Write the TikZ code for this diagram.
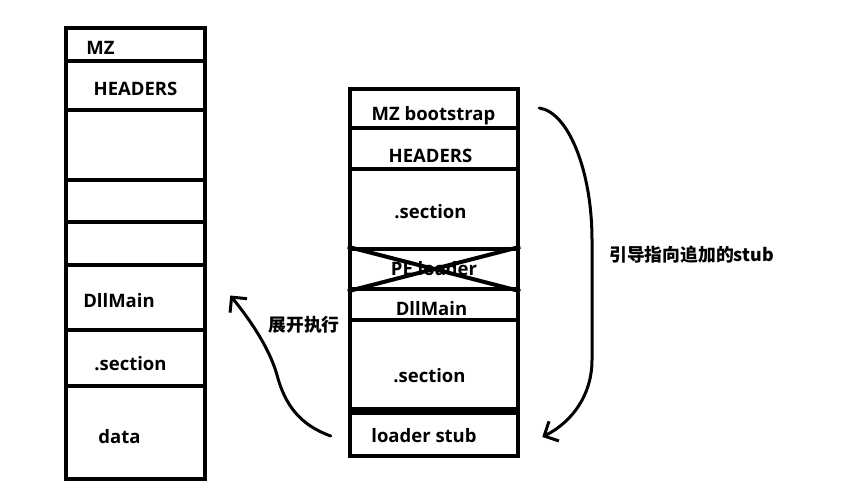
\documentclass[tikz,border=0pt]{standalone}
\usepackage{fontspec}
\setmainfont{Open Sans}
\newfontfamily\cjk{Noto Sans CJK SC}
\usetikzlibrary{arrows.meta,calc}

\begin{document}
\begin{tikzpicture}[x=1pt,y=-1pt,
  lseg/.style={draw,line width=4.5pt,minimum width=139pt,inner sep=0pt},
  rseg/.style={draw,line width=4.5pt,minimum width=168pt,inner sep=0pt},
  txt/.style={inner sep=0pt,anchor=base,font=\fontsize{18.5}{22}\selectfont\bfseries},
  note/.style={inner sep=0pt,font=\cjk\fontsize{17.8}{21}\selectfont\bfseries},
  xline/.style={line width=4pt},
  curve/.style={line width=3pt,line cap=round,line join=round,-{Straight Barb[length=11pt,width=22pt]}}
]
\useasboundingbox (0,0) rectangle (843,491);
\node[lseg,minimum height=33pt] (lmz) at (135.5,44.5) {};
\node[lseg,minimum height=49pt] (lhd) at (135.5,85.5) {};
\node[lseg,minimum height=70pt] (lb1) at (135.5,145) {};
\node[lseg,minimum height=42pt] (lb2) at (135.5,201) {};
\node[lseg,minimum height=43pt] (lb3) at (135.5,243.5) {};
\node[lseg,minimum height=65pt] (ldm) at (135.5,297.5) {};
\node[lseg,minimum height=56pt] (lsec) at (135.5,358) {};
\node[lseg,minimum height=93pt] (ldata) at (135.5,432.5) {};
\node[txt] (tlmz) at (100.5,54) {MZ};
\node[txt] (tlhd) at (135.5,95) {HEADERS};
\node[txt] (tldm) at (119,307) {DllMain};
\node[txt] (tlsec) at (130.5,370) {.section};
\node[txt] (tldata) at (119.5,443) {data};
\node[rseg,minimum height=39pt] (rmz) at (434,108.5) {};
\node[rseg,minimum height=41pt] (rhd) at (434,148.5) {};
\node[rseg,minimum height=80pt] (rsec1) at (434,209) {};
\node[rseg,minimum height=40pt] (rpe) at (434,269) {};
\node[rseg,minimum height=31pt] (rdm) at (434,304.5) {};
\node[rseg,minimum height=89pt] (rsec2) at (434,364.5) {};
\node[rseg,minimum height=43pt] (rls) at (434,434.5) {};
\node[txt] (trmz) at (433.5,120) {MZ bootstrap};
\node[txt] (trhd) at (430.5,162) {HEADERS};
\node[txt] (trsec1) at (430.5,218) {.section};
\node[txt] (trpe) at (434,275) {PE loader};
\node[txt] (trdm) at (431.5,315) {DllMain};
\node[txt] (trsec2) at (429.5,382) {.section};
\node[txt] (trls) at (424,442) {loader stub};
\draw[xline] (rpe.north west) -- (rpe.south east);
\draw[xline] (rpe.south west) -- (rpe.north east);
\node[note] (nstub) at (691.5,255) {引导指向追加的stub};
\node[note] (nrun) at (304,325) {展开执行};
\coordinate (ra) at ($(rmz.east)+(19,-0.5)$);
\coordinate (rb) at ($(rls.east)+(22,2.5)$);
\coordinate (la) at ($(rls.west)+(-17,1.5)$);
\coordinate (lb) at ($(ldm.east)+(23,-2)$);
\draw[curve] (ra) .. controls (568,112) and (592,170) .. (592,240) -- (592,360) .. controls (592,395) and (572,422) .. (rb);
\draw[curve] (la) .. controls (300,425) and (285,405) .. (277,375) .. controls (270,350) and (252,322) .. (lb);
\end{tikzpicture}
\end{document}
